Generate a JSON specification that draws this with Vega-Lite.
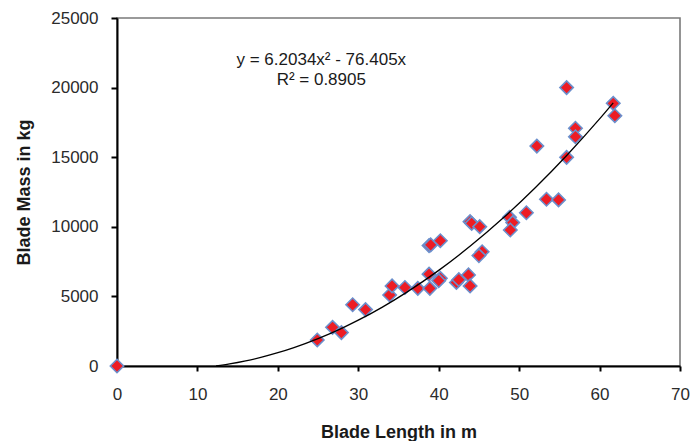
{
  "$schema": "https://vega.github.io/schema/vega-lite/v6.json",
  "autosize": "none",
  "width": 563,
  "height": 348,
  "padding": {"left": 117, "top": 18, "right": 11, "bottom": 75},
  "background": "white",
  "config": {
    "font": "Liberation Sans",
    "view": {"stroke": "#7a7a7a", "strokeWidth": 1.6},
    "axis": {
      "grid": false,
      "domainColor": "black",
      "domainWidth": 2,
      "tickColor": "black",
      "tickWidth": 2,
      "labelFontSize": 17,
      "labelColor": "#2b2b2b",
      "labelFont": "Liberation Sans",
      "titleFont": "Liberation Sans",
      "titleFontSize": 18,
      "titleFontWeight": "bold",
      "titleColor": "#1a1a1a",
      "labelFlush": false,
      "labelOverlap": false
    }
  },
  "datasets": {
    "blades": [
      {"length": 0, "mass": 0},
      {"length": 24.9, "mass": 1870},
      {"length": 26.8, "mass": 2780},
      {"length": 27.9, "mass": 2400},
      {"length": 29.3, "mass": 4400},
      {"length": 30.9, "mass": 4050},
      {"length": 33.9, "mass": 5100},
      {"length": 34.2, "mass": 5750},
      {"length": 35.8, "mass": 5640},
      {"length": 37.4, "mass": 5580},
      {"length": 38.8, "mass": 6600},
      {"length": 38.9, "mass": 5580},
      {"length": 38.8, "mass": 8650},
      {"length": 39.0, "mass": 8700},
      {"length": 40.2, "mass": 9000},
      {"length": 40.2, "mass": 6300},
      {"length": 40.0, "mass": 6130},
      {"length": 42.2, "mass": 6000},
      {"length": 42.5, "mass": 6200},
      {"length": 43.7, "mass": 6540},
      {"length": 43.9, "mass": 5750},
      {"length": 43.9, "mass": 10370},
      {"length": 44.1, "mass": 10250},
      {"length": 45.1, "mass": 10010},
      {"length": 45.4, "mass": 8210},
      {"length": 45.0, "mass": 7930},
      {"length": 48.8, "mass": 10680},
      {"length": 49.2, "mass": 10300},
      {"length": 48.9, "mass": 9770},
      {"length": 50.9, "mass": 11010},
      {"length": 52.2, "mass": 15800},
      {"length": 53.4, "mass": 11980},
      {"length": 54.9, "mass": 11930},
      {"length": 55.9, "mass": 20000},
      {"length": 55.9, "mass": 14990},
      {"length": 57.0, "mass": 17080},
      {"length": 57.0, "mass": 16470},
      {"length": 61.7, "mass": 18870},
      {"length": 61.9, "mass": 17980}
    ],
    "trend": [
      {"length": 12.32, "mass": 0},
      {"length": 14, "mass": 146},
      {"length": 16, "mass": 366},
      {"length": 18, "mass": 635},
      {"length": 20, "mass": 953},
      {"length": 22, "mass": 1322},
      {"length": 25, "mass": 1967},
      {"length": 28, "mass": 2724},
      {"length": 30, "mass": 3291},
      {"length": 33, "mass": 4234},
      {"length": 36, "mass": 5289},
      {"length": 40, "mass": 6869},
      {"length": 44, "mass": 8648},
      {"length": 48, "mass": 10625},
      {"length": 52, "mass": 12801},
      {"length": 56, "mass": 15175},
      {"length": 60, "mass": 17748},
      {"length": 61.7, "mass": 18901}
    ],
    "labels": [
      {"label": "y = 6.2034x² - 76.405x", "lx": 25.4, "ly": 21620},
      {"label": "R² = 0.8905", "lx": 25.4, "ly": 20190}
    ]
  },
  "layer": [
    {
      "data": {"name": "blades"},
      "mark": {
        "type": "point",
        "shape": "diamond",
        "size": 180,
        "filled": true,
        "fill": "#ED1C24",
        "stroke": "#6B8FCC",
        "strokeWidth": 1.6,
        "opacity": 1
      },
      "encoding": {
        "x": {
          "field": "length",
          "type": "quantitative",
          "scale": {"domain": [0, 70], "nice": false},
          "axis": {
            "title": "Blade Length in m",
            "values": [0, 10, 20, 30, 40, 50, 60, 70],
            "tickSize": 5,
            "labelPadding": 15,
            "titleBaseline": "alphabetic",
            "titleY": 71
          }
        },
        "y": {
          "field": "mass",
          "type": "quantitative",
          "scale": {"domain": [0, 25000], "nice": false},
          "axis": {
            "title": "Blade Mass in kg",
            "values": [0, 5000, 10000, 15000, 20000, 25000],
            "format": "d",
            "tickSize": 6,
            "labelPadding": 13,
            "titleBaseline": "alphabetic",
            "titleX": -88,
            "titleY": 174
          }
        }
      }
    },
    {
      "data": {"name": "trend"},
      "mark": {"type": "line", "color": "black", "strokeWidth": 1.3, "interpolate": "monotone"},
      "encoding": {
        "x": {"field": "length", "type": "quantitative"},
        "y": {"field": "mass", "type": "quantitative"}
      }
    },
    {
      "data": {"name": "labels"},
      "mark": {"type": "text", "align": "center", "baseline": "alphabetic", "fontSize": 17, "color": "#1a1a1a"},
      "encoding": {
        "x": {"field": "lx", "type": "quantitative"},
        "y": {"field": "ly", "type": "quantitative"},
        "text": {"field": "label"}
      }
    }
  ]
}
